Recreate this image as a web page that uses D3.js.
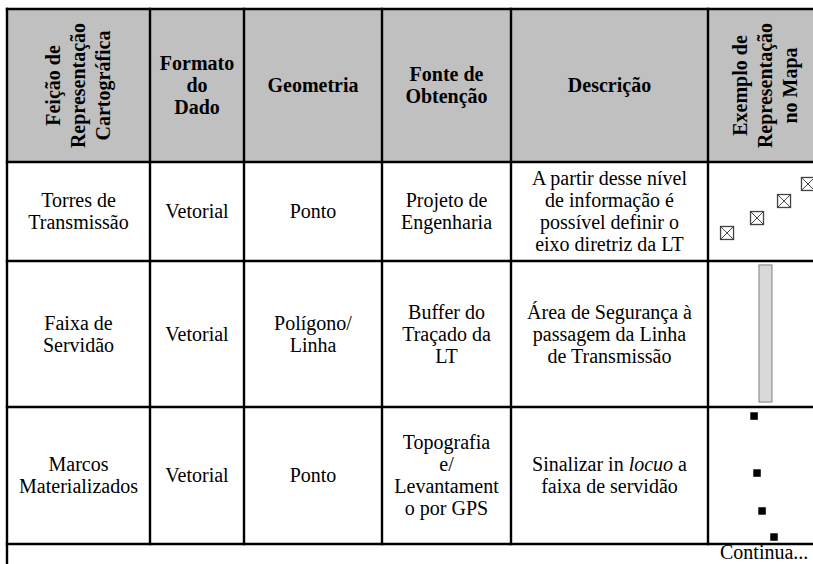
<!DOCTYPE html>
<html>
<head>
<meta charset="utf-8">
<script src="https://cdn.jsdelivr.net/npm/d3@7/dist/d3.min.js"></script>
<style>
  html, body { margin: 0; padding: 0; background: #fff; }
  svg { display: block; }
  text { font-family: "Liberation Serif", "Times New Roman", Times, "DejaVu Serif", serif; }
</style>
</head>
<body>
<svg id="chart" width="813" height="564"></svg>
<script>
// ---------- DATA ----------
const headers = [
  { lines: ["Feição de", "Representação", "Cartográfica"], rotated: true },
  { lines: ["Formato", "do", "Dado"], rotated: false },
  { lines: ["Geometria"], rotated: false },
  { lines: ["Fonte de", "Obtenção"], rotated: false },
  { lines: ["Descrição"], rotated: false },
  { lines: ["Exemplo de", "Representação", "no Mapa"], rotated: true }
];
const feicao = [["Torres de", "Transmissão"], ["Faixa de", "Servidão"], ["Marcos", "Materializados"]];
const formato = [["Vetorial"], ["Vetorial"], ["Vetorial"]];
const geometria = [["Ponto"], ["Polígono/", "Linha"], ["Ponto"]];
const fonte = [["Projeto de", "Engenharia"], ["Buffer do", "Traçado da", "LT"], ["Topografia", "e/", "Levantament", "o por GPS"]];
const descricao = [
  ["A partir desse nível", "de informação é", "possível definir o", "eixo diretriz da LT"],
  ["Área de Segurança à", "passagem da Linha", "de Transmissão"],
  [[{ t: "Sinalizar in " }, { t: "locuo", i: true }, { t: " a" }], "faixa de servidão"]
];
const footer = "Continua...";
// map example symbols, in cell-relative units (0..1)
const torresX = [0.167, 0.43, 0.667, 0.877];
const torresY = [0.717, 0.566, 0.394, 0.222];
const faixaX = [0.447, 0.561];
const faixaY = [0.027, 0.966];
const marcosX = [0.404, 0.43, 0.474, 0.579];
const marcosY = [0.066, 0.482, 0.759, 0.949];

// ---------- LAYOUT ----------
const colEdges = [7, 150, 244, 382, 511, 708, 822];
const rowEdges = [9, 162, 261, 407, 544, 600];
const FS = 20, LH = 22, LHR = 25;
const FONT = "Liberation Serif";

const svg = d3.select("#chart");
const columnsData = [feicao, formato, geometria, fonte, descricao];

// header background
svg.append("rect")
  .attr("x", colEdges[0]).attr("y", rowEdges[0])
  .attr("width", colEdges[6] - colEdges[0]).attr("height", rowEdges[1] - rowEdges[0])
  .attr("fill", "#c0c0c0");

function addLines(g, lines, cx, cy, bold) {
  const n = lines.length;
  lines.forEach((ln, i) => {
    const t = g.append("text")
      .attr("x", cx)
      .attr("y", cy + (i - (n - 1) / 2) * LH + FS * 0.33)
      .attr("text-anchor", "middle")
      .attr("font-family", FONT)
      .attr("font-size", FS)
      .attr("font-weight", bold ? "bold" : "normal")
      .attr("fill", "#000");
    if (typeof ln === "string") t.text(ln);
    else ln.forEach(p => t.append("tspan").attr("font-style", p.i ? "italic" : "normal").text(p.t));
  });
}

// headers
const hcy = (rowEdges[0] + rowEdges[1]) / 2;
headers.forEach((h, c) => {
  const cx = (colEdges[c] + colEdges[c + 1]) / 2;
  if (h.rotated) {
    const n = h.lines.length;
    h.lines.forEach((ln, i) => {
      const lx = cx + (i - (n - 1) / 2) * LHR;
      svg.append("g").attr("transform", `translate(${lx},${hcy}) rotate(-90)`)
        .append("text")
        .attr("x", 0).attr("y", FS * 0.33)
        .attr("text-anchor", "middle")
        .attr("font-family", FONT).attr("font-size", FS).attr("font-weight", "bold")
        .text(ln);
    });
  } else {
    addLines(svg, h.lines, cx, hcy, true);
  }
});

// body
for (let r = 0; r < 3; r++) {
  const cy = (rowEdges[r + 1] + rowEdges[r + 2]) / 2;
  columnsData.forEach((col, c) => {
    const cx = (colEdges[c] + colEdges[c + 1]) / 2;
    addLines(svg, col[r], cx, cy, false);
  });
}

// map examples
const c6 = 5;
const xs = d3.scaleLinear().domain([0, 1]).range([colEdges[c6], colEdges[c6 + 1]]);
const ysRow = r => d3.scaleLinear().domain([0, 1]).range([rowEdges[r + 1], rowEdges[r + 2]]);

// towers
const y1 = ysRow(0);
const TS = 13;
torresX.forEach((fx, i) => {
  const x = xs(fx) - TS / 2, y = y1(torresY[i]) - TS / 2;
  const g = svg.append("g");
  g.append("rect").attr("x", x).attr("y", y).attr("width", TS).attr("height", TS)
    .attr("fill", "#fff").attr("stroke", "#444").attr("stroke-width", 1.3);
  g.append("path").attr("d", `M${x},${y}L${x + TS},${y + TS}M${x + TS},${y}L${x},${y + TS}`)
    .attr("stroke", "#333").attr("stroke-width", 0.9);
});

// faixa
const y2 = ysRow(1);
svg.append("rect")
  .attr("x", xs(faixaX[0])).attr("y", y2(faixaY[0]))
  .attr("width", xs(faixaX[1]) - xs(faixaX[0])).attr("height", y2(faixaY[1]) - y2(faixaY[0]))
  .attr("fill", "#d9d9d9").attr("stroke", "#7f7f7f").attr("stroke-width", 1);

// marcos
const y3 = ysRow(2);
const MS = 7.5;
marcosX.forEach((fx, i) => {
  svg.append("rect").attr("x", xs(fx) - MS / 2).attr("y", y3(marcosY[i]) - MS / 2)
    .attr("width", MS).attr("height", MS).attr("fill", "#000");
});

// grid lines
const LW = 2.4;
const grid = svg.append("g").attr("stroke", "#000").attr("stroke-width", LW).attr("stroke-linecap", "square");
[0, 1, 2, 3, 4].forEach(i => {
  grid.append("line").attr("x1", colEdges[0]).attr("x2", colEdges[6])
    .attr("y1", rowEdges[i]).attr("y2", rowEdges[i]);
});
colEdges.forEach((x, i) => {
  const yEnd = (i === 0 || i === colEdges.length - 1) ? rowEdges[5] : rowEdges[4];
  grid.append("line").attr("x1", x).attr("x2", x).attr("y1", rowEdges[0]).attr("y2", yEnd);
});

// footer
svg.append("text")
  .attr("x", 720).attr("y", 559)
  .attr("font-family", FONT).attr("font-size", FS)
  .text(footer);
</script>
</body>
</html>
